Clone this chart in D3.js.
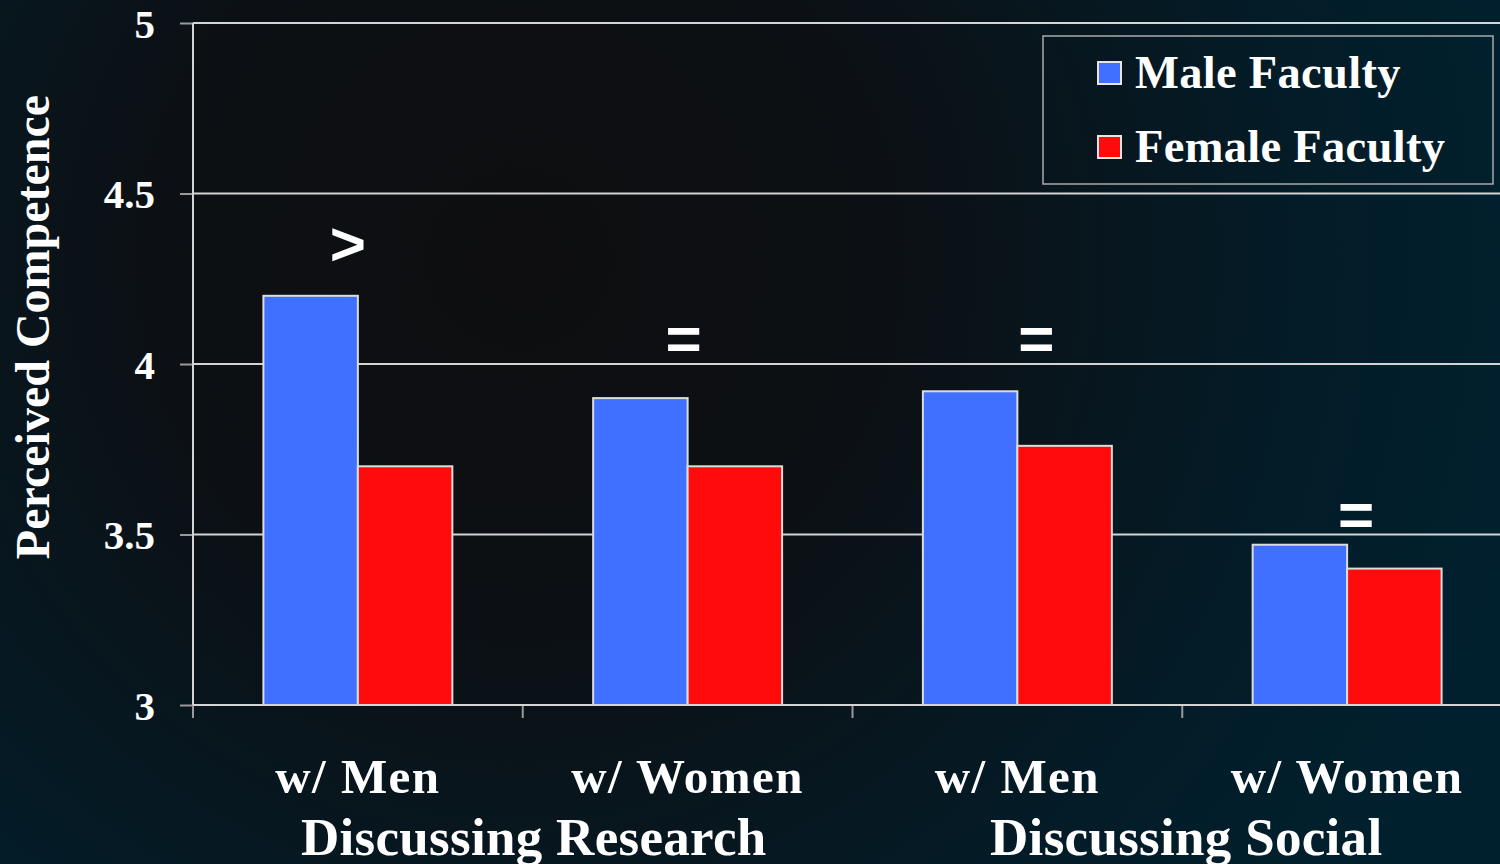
<!DOCTYPE html>
<html>
<head>
<meta charset="utf-8">
<script src="https://cdn.jsdelivr.net/npm/d3@7/dist/d3.min.js"></script>
<style>
  html, body { margin: 0; padding: 0; background: #0c0f12; overflow: hidden; }
  svg { display: block; }
</style>
</head>
<body>
<svg id="chart" width="1500" height="864"></svg>
<script>
// ---- data ----
const categories = ["w/ Men", "w/ Women", "w/ Men", "w/ Women"];
const groupLabels = ["Discussing Research", "Discussing Social"];
const seriesNames = ["Male Faculty", "Female Faculty"];
const maleValues = [4.2, 3.9, 3.92, 3.47];
const femaleValues = [3.7, 3.7, 3.76, 3.4];
const yTicks = [3, 3.5, 4, 4.5, 5];
const annotations = [">", "=", "=", "="];
const annotationLevels = [4.355, 4.076, 4.076, 3.56];
const yTitle = "Perceived Competence";

// ---- layout ----
const W = 1500, H = 864;
const svg = d3.select("#chart");
const colors = ["#4070ff", "#ff0b0b"];

const defs = svg.append("defs");
const grad = defs.append("radialGradient")
  .attr("id", "bg").attr("gradientUnits", "userSpaceOnUse")
  .attr("cx", 520).attr("cy", 260).attr("r", 1050);
[[0, "#0e0e10"], [0.35, "#0c1014"], [0.75, "#031c28"], [1, "#01202e"]]
  .forEach(([o, c]) => grad.append("stop").attr("offset", o).attr("stop-color", c));
svg.append("rect").attr("width", W).attr("height", H).attr("fill", "url(#bg)");

const x0 = 193, xEnd = 1512;
const y = d3.scaleLinear().domain([3, 5]).range([705, 23]);
const x = d3.scaleBand().domain(d3.range(categories.length)).range([x0, xEnd])
  .paddingInner(0.427).paddingOuter(0.2135);
const xStep = d3.scaleBand().domain(d3.range(categories.length)).range([x0, xEnd]);
const xs = d3.scaleBand().domain([0, 1]).range([0, x.bandwidth()]);

const serif = "'Liberation Serif', 'Times New Roman', serif";
const sans = "'Liberation Sans', Arial, sans-serif";

// y axis ticks + labels
const yAxis = d3.axisLeft(y).tickValues(yTicks).tickSize(13)
  .tickFormat(d => d3.format("~g")(d)).tickPadding(25);
const gy = svg.append("g").attr("transform", `translate(${x0},0)`).call(yAxis);
gy.select(".domain").remove();
gy.selectAll(".tick line").attr("stroke", "#9a9a9a").attr("stroke-width", 2);
gy.selectAll(".tick text")
  .attr("fill", "#ffffff").attr("font-family", serif).attr("font-weight", "bold")
  .attr("font-size", 41).attr("dy", "0.35em");

// gridlines
svg.append("g").selectAll("line").data(yTicks).join("line")
  .attr("x1", x0).attr("x2", W + 20)
  .attr("y1", d => y(d)).attr("y2", d => y(d))
  .attr("stroke", "#d4d4d4").attr("stroke-width", 2);

// y axis line
svg.append("line").attr("x1", x0).attr("x2", x0).attr("y1", y(5)).attr("y2", y(3))
  .attr("stroke", "#d4d4d4").attr("stroke-width", 2);

// x axis ticks at band boundaries
const xAxis = d3.axisBottom(xStep).tickSize(13).tickFormat("");
const gx = svg.append("g").attr("transform", `translate(0,${y(3)})`).call(xAxis);
gx.select(".domain").remove();
gx.selectAll(".tick").attr("transform", d => `translate(${xStep(d)},0)`);
gx.selectAll(".tick line").attr("stroke", "#9a9a9a").attr("stroke-width", 2);

// bars
const seriesVals = [maleValues, femaleValues];
const groups = svg.append("g").selectAll("g").data(categories.map((c, i) => i)).join("g")
  .attr("transform", i => `translate(${x(i)},0)`);
groups.selectAll("rect").data(i => seriesVals.map((vals, s) => ({ s, v: vals[i] }))).join("rect")
  .attr("x", d => xs(d.s)).attr("width", xs.bandwidth())
  .attr("y", d => y(d.v)).attr("height", d => y(3) - y(d.v))
  .attr("fill", d => colors[d.s])
  .attr("stroke", "#dcdcdc").attr("stroke-width", 2);

// baseline over bars
svg.append("line").attr("x1", x0).attr("x2", W + 20).attr("y1", y(3)).attr("y2", y(3))
  .attr("stroke", "#d4d4d4").attr("stroke-width", 2);

// annotations
const annDx = [-10, -4, 19, 9];
svg.append("g").selectAll("text").data(annotations).join("text")
  .attr("x", (d, i) => x(i) + x.bandwidth() / 2 + annDx[i])
  .attr("y", (d, i) => y(annotationLevels[i]))
  .attr("dy", "0.35em")
  .attr("text-anchor", "middle")
  .attr("font-family", sans).attr("font-weight", "bold").attr("font-size", 62)
  .attr("fill", "#ffffff")
  .text(d => d);

// category labels
svg.append("g").selectAll("text").data(categories).join("text")
  .attr("x", (d, i) => x(i) + x.bandwidth() / 2)
  .attr("y", 793)
  .attr("text-anchor", "middle")
  .attr("font-family", serif).attr("font-weight", "bold").attr("font-size", 49)
  .attr("letter-spacing", 1.5)
  .attr("fill", "#ffffff")
  .text(d => d);

// group labels
const groupDx = [11, 4];
svg.append("g").selectAll("text").data(groupLabels).join("text")
  .attr("x", (d, i) => (x(2 * i) + x(2 * i + 1) + x.bandwidth()) / 2 + groupDx[i])
  .attr("y", 855)
  .attr("text-anchor", "middle")
  .attr("font-family", serif).attr("font-weight", "bold").attr("font-size", 53)
  .attr("letter-spacing", 0.3)
  .attr("fill", "#ffffff")
  .text(d => d);

// y title
svg.append("text")
  .attr("transform", `translate(49,${327}) rotate(-90)`)
  .attr("text-anchor", "middle")
  .attr("font-family", serif).attr("font-weight", "bold").attr("font-size", 48)
  .attr("fill", "#ffffff")
  .text(yTitle);

// legend
const lg = svg.append("g");
lg.append("rect").attr("x", 1043).attr("y", 36).attr("width", 450).attr("height", 148)
  .attr("fill", "none").attr("stroke", "#a9a9a9").attr("stroke-width", 1.5);
const items = lg.selectAll("g.item").data(seriesNames).join("g").attr("class", "item")
  .attr("transform", (d, i) => `translate(1098,${62 + i * 74})`);
items.append("rect").attr("width", 23).attr("height", 22)
  .attr("fill", (d, i) => colors[i]).attr("stroke", "#e6e6e6").attr("stroke-width", 2);
items.append("text").attr("x", 37).attr("y", 26)
  .attr("font-family", serif).attr("font-weight", "bold").attr("font-size", 46.5)
  .attr("letter-spacing", 0.3)
  .attr("fill", "#ffffff").text(d => d);
</script>
</body>
</html>
